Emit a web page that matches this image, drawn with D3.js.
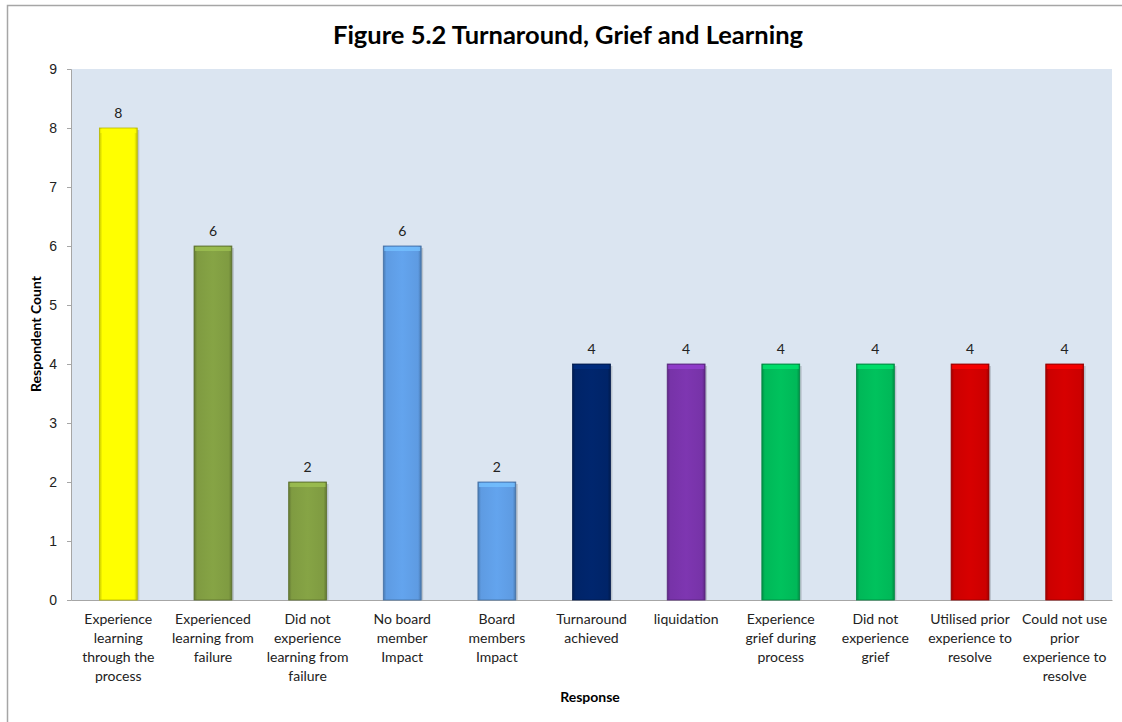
<!DOCTYPE html>
<html><head><meta charset="utf-8">
<script src="https://cdn.jsdelivr.net/npm/d3@7"></script>
<style>body{margin:0;background:#fff;}svg{display:block;font-family:Lato,"Open Sans",sans-serif;}</style>
</head><body>
<svg id="c" width="1122" height="722"></svg>
<script>
const categories = ["Experience learning through the process","Experienced learning from failure","Did not experience learning from failure","No board member Impact","Board members Impact","Turnaround achieved","liquidation","Experience grief during process","Did not experience grief","Utilised prior experience to resolve","Could not use prior experience to resolve"];
const labelLines = [["Experience","learning","through the","process"],["Experienced","learning from","failure"],["Did not","experience","learning from","failure"],["No board","member","Impact"],["Board","members","Impact"],["Turnaround","achieved"],["liquidation"],["Experience","grief during","process"],["Did not","experience","grief"],["Utilised prior","experience to","resolve"],["Could not use","prior","experience to","resolve"]];
const values = [8,6,2,6,2,4,4,4,4,4,4];
const colors = ["#FFFF00","#7F9B41","#7F9B41","#5E9BE2","#5E9BE2","#002468","#7733A8","#00B858","#00B858","#CC0000","#CC0000"];
const yTicks = [0,1,2,3,4,5,6,7,8,9];
const title = "Figure 5.2 Turnaround, Grief and Learning";
const yTitle = "Respondent Count";
const xTitle = "Response";

const svg = d3.select("#c");
const L=71, R=1112, T=69, B=600;
// outer border
svg.append("rect").attr("x",7.5).attr("y",5.5).attr("width",1130).attr("height",730).attr("fill","#fff").attr("stroke","#a6a6a6").attr("stroke-width",1.5);
svg.append("rect").attr("x",L).attr("y",T).attr("width",R-L).attr("height",B-T).attr("fill","#DBE5F1");

const x = d3.scaleBand().domain(categories).range([L,R]).paddingInner(0.6).paddingOuter(0.3);
const y = d3.scaleLinear().domain([0,9]).range([B,T]);

const defs = svg.append("defs");
colors.forEach((c,i)=>{
  const g = defs.append("linearGradient").attr("id","g"+i).attr("x1",0).attr("x2",1).attr("y1",0).attr("y2",0);
  const dk = d3.color(c).darker(0.7), lt = d3.color(c).brighter(0.15);
  g.append("stop").attr("offset","0%").attr("stop-color",dk);
  g.append("stop").attr("offset","8%").attr("stop-color",c);
  g.append("stop").attr("offset","50%").attr("stop-color",lt);
  g.append("stop").attr("offset","92%").attr("stop-color",c);
  g.append("stop").attr("offset","100%").attr("stop-color",dk);
});

// y axis
const ya = svg.append("g").attr("transform",`translate(${L},0)`).call(d3.axisLeft(y).tickValues(yTicks).tickSize(4).tickPadding(10));
ya.select(".domain").attr("stroke","#a6a6a6");
ya.selectAll(".tick line").attr("stroke","#a6a6a6");
ya.selectAll("text").attr("font-size",14).attr("fill","#222");
// x axis
const xa = svg.append("g").attr("transform",`translate(0,${B})`).call(d3.axisBottom(x).tickSize(0).tickFormat(""));
xa.select(".domain").attr("stroke","#a6a6a6");

const bars = svg.append("g").selectAll("g").data(categories).join("g");
bars.append("rect").attr("x",d=>x(d)+2).attr("y",(d,i)=>y(values[i])+2).attr("width",x.bandwidth()).attr("height",(d,i)=>B-y(values[i])-2).attr("fill","rgba(0,0,0,0.15)");
bars.append("rect").attr("x",d=>x(d)).attr("y",(d,i)=>y(values[i])).attr("width",x.bandwidth()).attr("height",(d,i)=>B-y(values[i]))
  .attr("fill",(d,i)=>`url(#g${i})`).attr("stroke",(d,i)=>d3.color(colors[i]).darker(0.9)).attr("stroke-width",0.8);
bars.append("rect").attr("x",d=>x(d)+1).attr("y",(d,i)=>y(values[i])+1).attr("width",x.bandwidth()-2).attr("height",4)
  .attr("fill",(d,i)=>d3.color(colors[i]).brighter(0.6)).attr("opacity",0.8);
bars.append("text").attr("x",d=>x(d)+x.bandwidth()/2).attr("y",(d,i)=>y(values[i])-10).attr("text-anchor","middle")
  .attr("font-size",14).attr("fill","#222").text((d,i)=>values[i]);

// category labels
const lab = svg.append("g");
categories.forEach((c,i)=>{
  const t = lab.append("text").attr("x",x(c)+x.bandwidth()/2).attr("y",624).attr("text-anchor","middle").attr("font-size",14).attr("fill","#222");
  labelLines[i].forEach((ln,j)=>t.append("tspan").attr("x",x(c)+x.bandwidth()/2).attr("dy",j?19:0).text(ln));
});

svg.append("text").attr("x",568).attr("y",44).attr("text-anchor","middle").attr("font-size",25.5).attr("font-weight","bold").attr("fill","#000").text(title);
svg.append("text").attr("transform","translate(41,334) rotate(-90)").attr("text-anchor","middle").attr("font-size",14).attr("font-weight","bold").attr("fill","#000").text(yTitle);
svg.append("text").attr("x",590).attr("y",702).attr("text-anchor","middle").attr("font-size",14).attr("font-weight","bold").attr("fill","#000").text(xTitle);
</script>
</body></html>
